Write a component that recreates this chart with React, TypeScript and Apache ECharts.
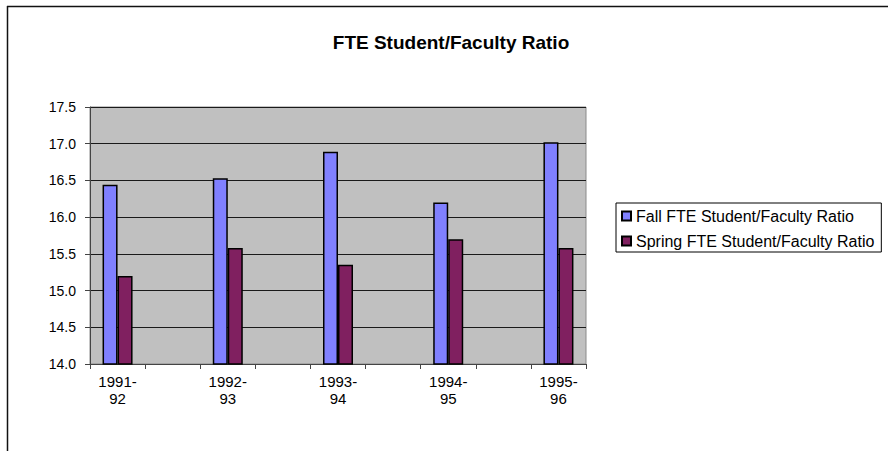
import React, { useEffect, useRef } from "react";
import * as echarts from "echarts";

const categories = ["1991-92", "", "1992-93", "", "1993-94", "", "1994-95", "", "1995-96"];
const fallValues = [16.44, null, 16.53, null, 16.89, null, 16.2, null, 17.02];
const springValues = [15.2, null, 15.58, null, 15.35, null, 15.7, null, 15.58];
const seriesNames = ["Fall FTE Student/Faculty Ratio", "Spring FTE Student/Faculty Ratio"];
const titleText = "FTE Student/Faculty Ratio";

const FONT = "'Liberation Sans', Arial, sans-serif";

export default function App() {
  const ref = useRef<HTMLDivElement>(null);
  useEffect(() => {
    document.body.style.margin = "0";
    const chart = echarts.init(ref.current!, null, { renderer: "svg" });
    chart.setOption({
      animation: false,
      backgroundColor: "#ffffff",
      textStyle: { fontFamily: FONT },
      graphic: [
        { type: "line", shape: { x1: 7, y1: 6.5, x2: 888, y2: 6.5 }, style: { stroke: "#111", lineWidth: 1.5 } },
        { type: "line", shape: { x1: 7.5, y1: 6, x2: 7.5, y2: 451 }, style: { stroke: "#111", lineWidth: 1.5 } },
        {
          type: "text",
          x: 451,
          y: 42,
          style: {
            text: titleText,
            fontFamily: FONT,
            fontSize: 19,
            fontWeight: "bold",
            fill: "#000",
            align: "center",
            verticalAlign: "middle",
          },
        },
      ],
      legend: {
        orient: "vertical",
        left: 616,
        top: 203,
        padding: [5, 7, 3, 5],
        itemWidth: 9,
        itemHeight: 9,
        itemGap: 9,
        icon: "rect",
        borderColor: "#000",
        borderWidth: 1,
        textStyle: { fontFamily: FONT, fontSize: 16, lineHeight: 16, color: "#000" },
        data: seriesNames,
      },
      grid: {
        left: 90,
        right: 302,
        top: 107,
        bottom: 87,
        show: true,
        backgroundColor: "#c0c0c0",
        borderColor: "#8a8a8a",
        borderWidth: 1,
        containLabel: false,
      },
      xAxis: {
        type: "category",
        data: categories,
        axisLine: { show: true, lineStyle: { color: "#444", width: 1 } },
        axisTick: { show: true, length: 5, lineStyle: { color: "#444" }, interval: 0 },
        axisLabel: {
          interval: 0,
          margin: 9,
          fontFamily: FONT,
          fontSize: 15,
          lineHeight: 17,
          color: "#000",
          formatter: (v: string) => (v ? v.replace("-", "-\n") : ""),
        },
        splitLine: { show: false },
      },
      yAxis: {
        type: "value",
        min: 14,
        max: 17.5,
        interval: 0.5,
        axisLine: { show: true, lineStyle: { color: "#444", width: 1 } },
        axisTick: { show: true, length: 5, lineStyle: { color: "#444" } },
        axisLabel: {
          margin: 14,
          fontFamily: FONT,
          fontSize: 14,
          color: "#000",
          formatter: (v: number) => v.toFixed(1),
        },
        splitLine: { show: true, lineStyle: { color: "#1a1a1a", width: 1 } },
      },
      series: [
        {
          name: seriesNames[0],
          type: "bar",
          data: fallValues,
          barWidth: 15,
          barGap: "0%",
          itemStyle: { color: "#8080ff", borderColor: "#000", borderWidth: 1.5 },
        },
        {
          name: seriesNames[1],
          type: "bar",
          data: springValues,
          barWidth: 15,
          itemStyle: { color: "#802060", borderColor: "#000", borderWidth: 1.5 },
        },
      ],
    });
    return () => chart.dispose();
  }, []);
  return (
    <div
      ref={ref}
      style={{ width: 888, height: 451, position: "fixed", left: 0, top: 0 }}
    />
  );
}
